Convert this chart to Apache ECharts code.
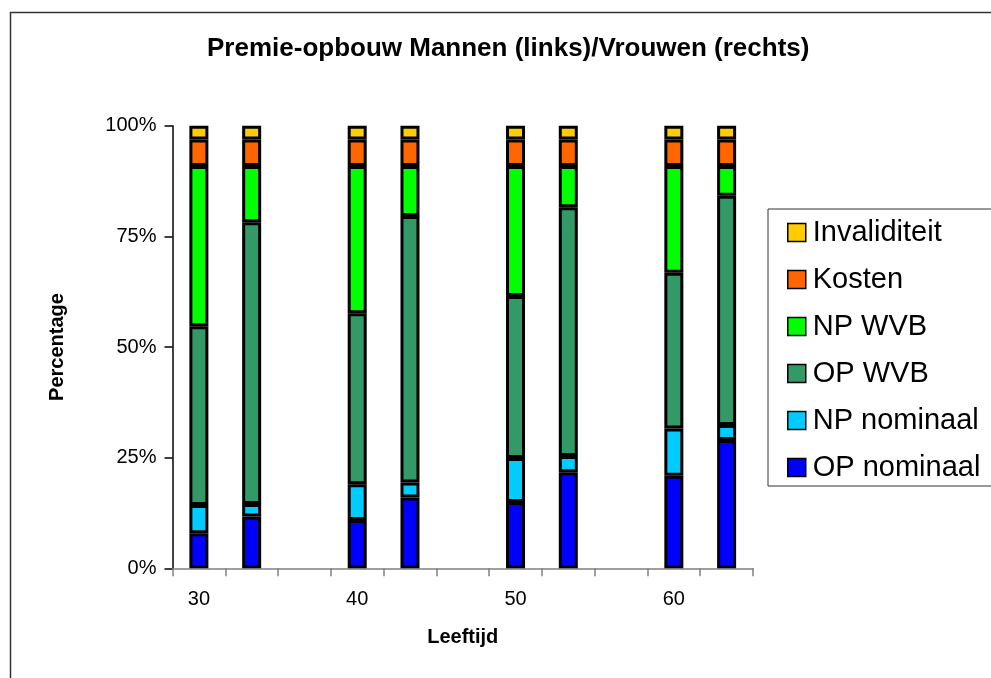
<!DOCTYPE html>
<html>
<head>
<meta charset="utf-8">
<script src="https://cdn.jsdelivr.net/npm/echarts@6/dist/echarts.min.js"></script>
<style>
    html, body { margin: 0; padding: 0; background: #fff; }
    #chart { width: 991px; height: 678px; }
</style>
</head>
<body>
<div id="chart"></div>
<script>
// leeftijden: man (links) / vrouw (rechts), lege kolom ertussen
var categories = ['30', '', '', '40', '', '', '50', '', '', '60', ''];
var opNominaal = [7.9, 11.7, null, 10.9, 16.0, null, 15.0, 21.7, null, 20.9, 29.0];
var npNominaal = [6.4, 2.8, null, 8.1, 3.4, null, 9.9, 3.7, null, 10.7, 3.4];
var opWvb = [40.4, 63.7, null, 38.6, 60.2, null, 36.6, 56.2, null, 35.2, 51.8];
var npWvb = [36.2, 12.7, null, 33.3, 11.3, null, 29.4, 9.3, null, 24.1, 6.7];
var kosten = [6.0, 6.0, null, 6.0, 6.0, null, 6.0, 6.0, null, 6.0, 6.0];
var invaliditeit = [3.1, 3.1, null, 3.1, 3.1, null, 3.1, 3.1, null, 3.1, 3.1];
var yTicks = [0, 25, 50, 75, 100];

var font = 'Liberation Sans, Arial, sans-serif';

function barSerie(name, color, data) {
    return {
        name: name,
        type: 'bar',
        stack: 'totaal',
        barWidth: 19,
        data: data,
        itemStyle: {
            color: color,
            borderColor: '#000',
            borderWidth: 3
        }
    };
}

var charts = echarts.init(document.getElementById('chart'));
var option = {
    backgroundColor: '#fff',
    animation: false,
    textStyle: { fontFamily: font },
    title: {
        text: 'Premie-opbouw Mannen (links)/Vrouwen (rechts)',
        left: 207,
        top: 36,
        padding: 0,
        textStyle: { fontFamily: font, fontSize: 26, fontWeight: 'bold', color: '#000' }
    },
    // kader rond de hele grafiek + kader legenda (loopt rechts buiten beeld)
    graphic: [{
        type: 'rect',
        left: 8,
        top: 10,
        shape: { width: 1100, height: 800 },
        style: { fill: null, stroke: '#333', lineWidth: 1.5 },
        silent: true
    }, {
        type: 'rect',
        left: 767.5,
        top: 208.5,
        shape: { width: 300, height: 277 },
        style: { fill: '#fff', stroke: '#333', lineWidth: 1 },
        silent: true,
        z: -1
    }],
    legend: {
        orient: 'vertical',
        left: 767,
        top: 208,
        padding: [10, 10, 7, 20],
        itemGap: 18,
        itemWidth: 18,
        itemHeight: 18,
        icon: 'rect',
        itemStyle: { borderColor: '#000', borderWidth: 1.5 },
        textStyle: { fontFamily: font, fontSize: 29, lineHeight: 28, color: '#000', padding: [0, 0, 0, 2] },
        data: ['Invaliditeit', 'Kosten', 'NP WVB', 'OP WVB', 'NP nominaal', 'OP nominaal']
    },
    grid: {
        left: 172.5,
        right: 238,
        top: 125.7,
        bottom: 109.7
    },
    xAxis: [
        {
            type: 'category',
            data: categories,
            boundaryGap: true,
            name: 'Leeftijd',
            nameLocation: 'middle',
            nameGap: 59,
            nameTextStyle: { fontFamily: font, fontSize: 20, fontWeight: 'bold', color: '#000' },
            axisLine: { lineStyle: { color: '#808080', width: 1.5 } },
            axisTick: { show: true, length: 8, interval: 0, lineStyle: { color: '#808080', width: 1.5 } },
            axisLabel: { interval: 0, margin: 21, fontSize: 20, color: '#000', fontFamily: font }
        }
    ],
    yAxis: [
        {
            type: 'value',
            min: yTicks[0],
            max: yTicks[yTicks.length - 1],
            interval: 25,
            name: 'Percentage',
            nameLocation: 'middle',
            nameGap: 105,
            nameTextStyle: { fontFamily: font, fontSize: 20, fontWeight: 'bold', color: '#000' },
            axisLine: { show: true, lineStyle: { color: '#000', width: 1.5 } },
            axisTick: { show: true, length: 8, lineStyle: { color: '#000', width: 1.5 } },
            axisLabel: { formatter: '{value}%', margin: 16, fontSize: 20, color: '#000', fontFamily: font },
            splitLine: { show: false }
        }
    ],
    series: [
        barSerie('OP nominaal', '#0000FF', opNominaal),
        barSerie('NP nominaal', '#00CCFF', npNominaal),
        barSerie('OP WVB', '#339966', opWvb),
        barSerie('NP WVB', '#00FF00', npWvb),
        barSerie('Kosten', '#FF6600', kosten),
        barSerie('Invaliditeit', '#FFCC00', invaliditeit)
    ]
};
//渲染图表
if (option && typeof option === "object") {
    charts.setOption(option, true);
}
</script>
</body>
</html>
